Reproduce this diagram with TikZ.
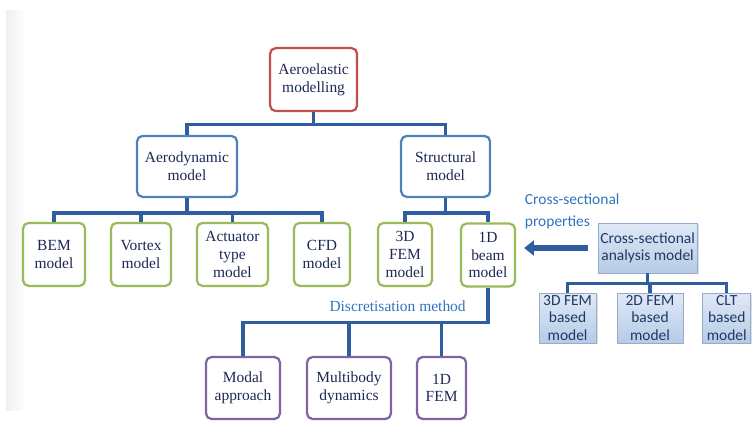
\documentclass[tikz,border=0pt]{standalone}
\usepackage{fontspec}
\setmainfont{Liberation Serif}
\newfontfamily\calibri{Carlito}
\usetikzlibrary{shapes,arrows,arrows.meta,positioning,calc,shadows}

\definecolor{aeroRed}{RGB}{192,80,77}
\definecolor{modelBlue}{RGB}{79,129,189}
\definecolor{subGreen}{RGB}{155,187,89}
\definecolor{discPurple}{RGB}{128,100,162}
\definecolor{linkBlue}{RGB}{46,94,160}
\definecolor{labelBlue}{RGB}{46,117,190}
\definecolor{textNavy}{RGB}{30,40,85}
\definecolor{csTop}{RGB}{224,233,246}
\definecolor{csBottom}{RGB}{182,203,230}
\definecolor{csEdge}{RGB}{150,172,205}
\definecolor{csText}{RGB}{31,56,100}

\begin{document}
\begin{tikzpicture}[
  model/.style={draw, rounded corners=4pt, line width=1.6pt, fill=white, align=center,
    text=textNavy, font=\fontsize{11}{12.5}\selectfont, inner sep=1pt},
  link/.style={draw=linkBlue, line width=2.2pt},
  csbox/.style={draw=csEdge, line width=0.6pt, top color=csTop, bottom color=csBottom,
    align=center, text=csText, font=\calibri\fontsize{11}{12.6}\selectfont, inner sep=1pt,
    drop shadow={opacity=0.25, shadow xshift=1pt, shadow yshift=-1pt}}
]
\useasboundingbox (0,0) rectangle (18.8,-10.55);

% Page edge
\shade[left color=black!6, right color=white] (0.15,-0.25) rectangle (0.65,-10.25);

% Top level
\node[model, draw=aeroRed, minimum width=2.175cm, minimum height=1.575cm] (aeroelastic) at (7.84,-1.99) {Aeroelastic\\modelling};

% Second level
\node[model, draw=modelBlue, minimum width=2.5cm, minimum height=1.525cm] (aero) at (4.675,-4.16) {Aerodynamic\\model};
\node[model, draw=modelBlue, minimum width=2.225cm, minimum height=1.525cm] (struct) at (11.14,-4.16) {Structural\\model};

% Aerodynamic models
\node[model, draw=subGreen, minimum width=1.55cm, minimum height=1.575cm] (bem) at (1.35,-6.36) {BEM\\model};
\node[model, draw=subGreen, minimum width=1.5cm, minimum height=1.575cm] (vortex) at (3.525,-6.36) {Vortex\\model};
\node[model, draw=subGreen, minimum width=1.775cm, minimum height=1.575cm] (actuator) at (5.81,-6.36) {Actuator\\type\\model};
\node[model, draw=subGreen, minimum width=1.4cm, minimum height=1.575cm] (cfd) at (8.05,-6.36) {CFD\\model};

% Structural models
\node[model, draw=subGreen, minimum width=1.35cm, minimum height=1.575cm] (fem3d) at (10.125,-6.36) {3D\\FEM\\model};
\node[model, draw=subGreen, minimum width=1.35cm, minimum height=1.575cm] (beam) at (12.2,-6.375) {1D\\beam\\model};

% Discretisation
\node[font=\fontsize{11}{12.5}\selectfont, text=labelBlue] (disclabel) at (9.94,-7.65) {Discretisation method};
\node[model, draw=discPurple, minimum width=1.85cm, minimum height=1.55cm] (modal) at (6.075,-9.7) {Modal\\approach};
\node[model, draw=discPurple, minimum width=2.1cm, minimum height=1.55cm] (multibody) at (8.725,-9.7) {Multibody\\dynamics};
\node[model, draw=discPurple, minimum width=1.225cm, minimum height=1.55cm] (fem1d) at (11.04,-9.7) {1D\\FEM};

% Cross-sectional analysis
\node[anchor=west, align=left, text=labelBlue, font=\calibri\fontsize{11}{15.5}\selectfont] (cslabel) at (13.0,-5.275) {Cross-sectional\\properties};
\node[csbox, minimum width=2.475cm, minimum height=1.25cm] (csa) at (16.19,-6.2) {Cross-sectional\\analysis model};
\node[csbox, minimum width=1.425cm, minimum height=1.25cm] (cs3d) at (14.19,-7.95) {3D FEM\\based\\model};
\node[csbox, minimum width=1.65cm, minimum height=1.25cm] (cs2d) at (16.25,-7.95) {2D FEM\\based\\model};
\node[csbox, minimum width=1.2cm, minimum height=1.25cm] (csclt) at (18.17,-7.95) {CLT\\based\\model};

% Connectors
\foreach \n in {aero,struct}
  \draw[link] (aeroelastic.south) -- ++(0,-0.3) -| (\n.north);
\foreach \n in {bem,vortex,actuator,cfd}
  \draw[link] (aero.south) -- ++(0,-0.375) -| (\n.north);
\foreach \n in {fem3d,beam}
  \draw[link] (struct.south) -- ++(0,-0.375) -| (\n.north);
\foreach \n in {modal,multibody,fem1d}
  \draw[link] (beam.south) -- ++(0,-0.875) -| (\n.north);
\foreach \n in {cs3d,cs2d,csclt}
  \draw[link] (csa.south) -- ++(0,-0.25) -| (\n.north);

% Properties arrow
\draw[draw=linkBlue, line width=4.5pt, -{Triangle[length=7pt,width=10.5pt]}]
  ([xshift=-0.25cm]csa.west) -- ([xshift=0.2cm]csa.west -| beam.east);

\end{tikzpicture}
\end{document}
